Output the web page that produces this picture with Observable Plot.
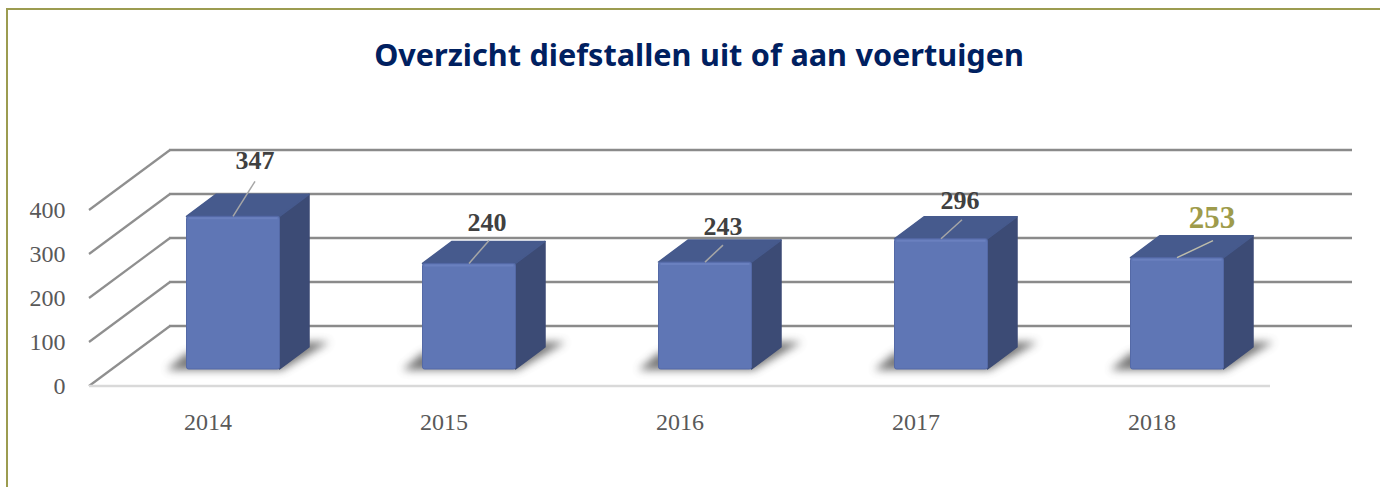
<!DOCTYPE html>
<html><head><meta charset="utf-8">
<script src="https://cdn.jsdelivr.net/npm/d3@7"></script>
<script src="https://cdn.jsdelivr.net/npm/@observablehq/plot@0.6"></script>
<style>
html,body{margin:0;padding:0;background:#fff;}
#page{position:relative;width:1380px;height:487px;overflow:hidden;}
#frame{position:absolute;left:6px;top:8px;right:-5px;bottom:-5px;border-top:2px solid #9c9c50;border-left:2px solid #9c9c50;pointer-events:none;}
#title{height:130px;box-sizing:border-box;padding-top:32px;padding-left:18px;text-align:center;font:700 30.6px "Noto Sans",sans-serif;word-spacing:.6px;line-height:44px;color:#002060;}
svg{display:block;}
</style></head><body>
<div id="page"><div id="frame"></div><div id="title">Overzicht diefstallen uit of aan voertuigen</div><div id="chart"></div></div>
<script>
const years = [2014, 2015, 2016, 2017, 2018];
const values = [347, 240, 243, 296, 253];
const yTicks = [0, 100, 200, 300, 400];
const rows = years.map((year, i) => ({year, value: values[i]}));

// layout of the fake perspective, in pixels
const wall = {dx: 80, dy: -60}, bar = {dx: 25.5, dy: -17}, side = {dx: 29.5, dy: -22};
const labelShift = {2014: [47, -56], 2015: [43, -41], 2016: [43, -36], 2017: [44, -39], 2018: [60, -40]};
const leaderEnd = {2014: [22, -35], 2015: [20, -23], 2016: [18, -17], 2017: [21, -19], 2018: [36, -17]};

const g = () => d3.create("svg:g");
const pts = a => a.map(p => p.join(",")).join(" ");
const geom = (d, s) => {
  const bw = s.x.bandwidth(), x0 = s.x(d.year) + bar.dx, x1 = x0 + bw;
  const y0 = s.y(0) + bar.dy, yT = s.y(d.value) + bar.dy;
  return {x0, x1, y0, yT};
};

const backGrid = Plot.ruleY(yTicks, {render(idx, s) {
  const r = g();
  const L = s.x.range()[0], R = s.x.range()[1];
  for (const t of yTicks) {
    const y = s.y(t);
    r.append("line").attr("x1", L + wall.dx).attr("x2", R + wall.dx + 2)
      .attr("y1", y + wall.dy).attr("y2", y + wall.dy).attr("stroke", "#8a8a8a").attr("stroke-width", 2.5);
    r.append("line").attr("x1", L).attr("x2", L + wall.dx + 1)
      .attr("y1", y).attr("y2", y + wall.dy).attr("stroke", "#8f8f8f").attr("stroke-width", 2.2);
  }
  r.append("line").attr("x1", L).attr("x2", R).attr("y1", s.y(0)).attr("y2", s.y(0))
    .attr("stroke", "#d9d9d9").attr("stroke-width", 2.5);
  return r.node();
}});

const bars3d = Plot.barY(rows, {x: "year", y: "value", render(idx, s) {
  const r = g();
  for (const d of rows) {
    const {x0, x1, y0} = geom(d, s);
    r.append("polygon").attr("points", pts([[x0 - 20, y0 + 1], [x1 + 2, y0 + 1], [x1 + 50, y0 - 27], [x1 + 30, y0 - 27], [x0, y0 - 16]]))
      .attr("fill", "#555").style("filter", "blur(4.5px)").attr("opacity", .8);
  }
  for (const d of rows) {
    const {x0, x1, y0, yT} = geom(d, s);
    r.append("polygon").attr("points", pts([[x1, y0], [x1 + side.dx, y0 + side.dy], [x1 + side.dx, yT + side.dy], [x1, yT]]))
      .attr("fill", "#3c4b75").attr("stroke", "#3c4b75").attr("stroke-linejoin", "round").attr("stroke-width", 1.5);
    r.append("polygon").attr("points", pts([[x0, yT], [x1, yT], [x1 + side.dx, yT + side.dy], [x0 + side.dx, yT + side.dy]]))
      .attr("fill", "#465a8d").attr("stroke", "#465a8d").attr("stroke-linejoin", "round").attr("stroke-width", 1.5);
    r.append("rect").attr("x", x0).attr("y", yT).attr("width", x1 - x0).attr("height", y0 - yT)
      .attr("rx", 2).attr("fill", "#5f76b5").attr("stroke", "#5469a6").attr("stroke-width", 1);
    r.append("line").attr("x1", x0 + 2).attr("x2", x1 - 2).attr("y1", yT + 2).attr("y2", yT + 2)
      .attr("stroke", "#6a80bf").attr("stroke-width", 2);
  }
  return r.node();
}});

const leaders = Plot.barY(rows, {x: "year", y: "value", render(idx, s) {
  const r = g();
  for (const d of rows) {
    const {x0, x1, yT} = geom(d, s), cx = (x0 + x1) / 2, e = leaderEnd[d.year];
    r.append("line").attr("x1", cx).attr("y1", yT).attr("x2", cx + e[0]).attr("y2", yT + e[1])
      .attr("stroke", d.year === 2018 ? "#bdbcaa" : "#a6a6a6").attr("stroke-width", 1.5);
  }
  return r.node();
}});

const valueLabels = rows.map(d => Plot.text([d], {
  x: "year", y: "value", text: d => String(d.value),
  dx: labelShift[d.year][0], dy: bar.dy + labelShift[d.year][1],
  fontWeight: "bold", fontSize: d.year === 2018 ? 31 : 26,
  fill: d.year === 2018 ? "#9e9b4b" : "#404040"
}));

const plot = Plot.plot({
  width: 1380, height: 357,
  marginLeft: 89, marginRight: 110, marginTop: 80, marginBottom: 101,
  style: {fontFamily: "'Liberation Serif', serif", background: "transparent", overflow: "visible"},
  x: {type: "band", domain: years, paddingInner: 0.606, paddingOuter: 0.303, label: null},
  y: {domain: [0, 400], label: null},
  marks: [
    backGrid,
    bars3d,
    leaders,
    ...valueLabels,
    Plot.axisY({ticks: yTicks, tickSize: 0, tickPadding: 24, fontSize: 24, color: "#595959", label: null}),
    Plot.axisX({tickSize: 0, tickPadding: 26, fontSize: 24, color: "#595959", label: null, tickFormat: String})
  ]
});
document.getElementById("chart").append(plot);
</script></body></html>
